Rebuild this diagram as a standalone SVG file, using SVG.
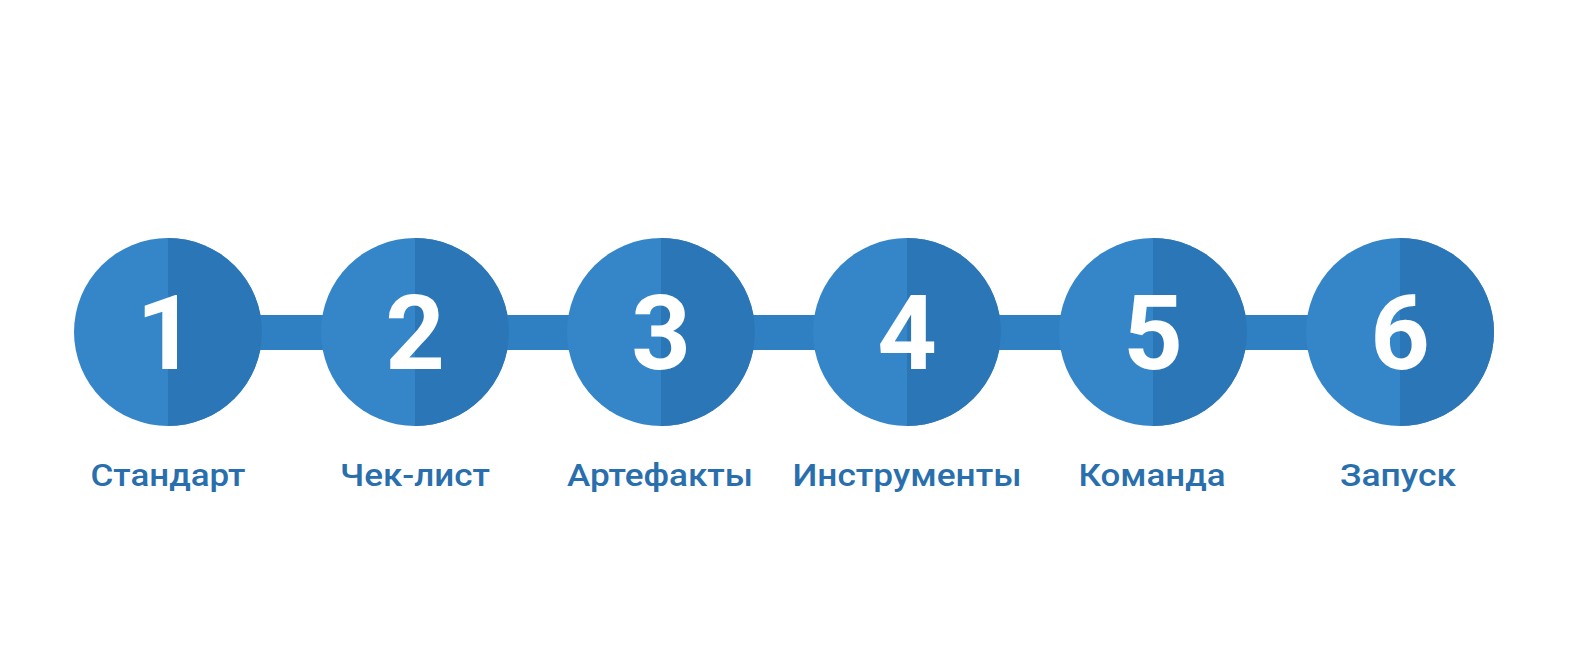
<svg xmlns="http://www.w3.org/2000/svg" width="1584" height="672" viewBox="0 0 1584 672">
<defs>
<style>
.l{fill:#3585c9}
.d{fill:#2b76b7}
.bar{fill:#2f7fc3}
.num{font-family:Roboto,"Liberation Sans",sans-serif;font-weight:700;font-size:104px;fill:#ffffff;text-anchor:middle}
.lab{font-family:Roboto,"Liberation Sans",sans-serif;font-weight:500;font-size:31px;fill:#2a6fad;text-anchor:middle}
</style>
</defs>
<rect width="1584" height="672" fill="#ffffff"/>
<g id="connectors">
<rect class="bar" x="255" y="315" width="75" height="35"/>
<rect class="bar" x="501" y="315" width="75" height="35"/>
<rect class="bar" x="747" y="315" width="75" height="35"/>
<rect class="bar" x="993" y="315" width="75" height="35"/>
<rect class="bar" x="1239" y="315" width="75" height="35"/>
</g>
<g id="n1"><circle class="l" cx="168" cy="332" r="94"/><path class="d" d="M168 238 A94 94 0 0 1 168 426 Z"/><text class="num" x="166" y="369">1</text><text class="lab" x="168" y="486" textLength="155" lengthAdjust="spacingAndGlyphs">Стандарт</text></g>
<g id="n2"><circle class="l" cx="415" cy="332" r="94"/><path class="d" d="M415 238 A94 94 0 0 1 415 426 Z"/><text class="num" x="415" y="369">2</text><text class="lab" x="415" y="486" textLength="150" lengthAdjust="spacingAndGlyphs">Чек-лист</text></g>
<g id="n3"><circle class="l" cx="661" cy="332" r="94"/><path class="d" d="M661 238 A94 94 0 0 1 661 426 Z"/><text class="num" x="661" y="369">3</text><text class="lab" x="660" y="486" textLength="186" lengthAdjust="spacingAndGlyphs">Артефакты</text></g>
<g id="n4"><circle class="l" cx="907" cy="332" r="94"/><path class="d" d="M907 238 A94 94 0 0 1 907 426 Z"/><text class="num" x="907" y="369">4</text><text class="lab" x="907" y="486" textLength="229" lengthAdjust="spacingAndGlyphs">Инструменты</text></g>
<g id="n5"><circle class="l" cx="1153" cy="332" r="94"/><path class="d" d="M1153 238 A94 94 0 0 1 1153 426 Z"/><text class="num" x="1153" y="369">5</text><text class="lab" x="1152" y="486" textLength="147" lengthAdjust="spacingAndGlyphs">Команда</text></g>
<g id="n6"><circle class="l" cx="1400" cy="332" r="94"/><path class="d" d="M1400 238 A94 94 0 0 1 1400 426 Z"/><text class="num" x="1400" y="369">6</text><text class="lab" x="1398" y="486" textLength="116" lengthAdjust="spacingAndGlyphs">Запуск</text></g>
</svg>
